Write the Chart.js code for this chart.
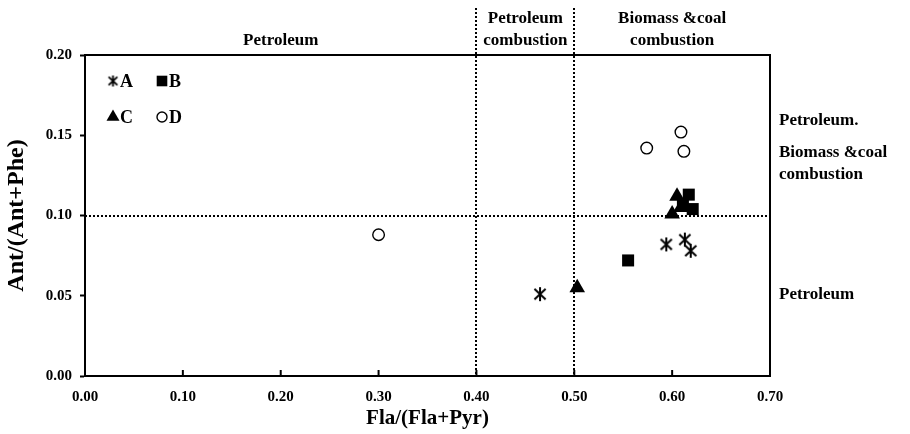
<!DOCTYPE html>
<html>
<head>
<meta charset="utf-8">
<script src="https://cdn.jsdelivr.net/npm/chart.js@4.4.0/dist/chart.umd.min.js"></script>
<style>
    html, body { margin: 0; padding: 0; background: #fff; }
    #wrap { width: 910px; height: 434px; }
</style>
</head>
<body>
<div id="wrap"><canvas id="diag"></canvas></div>
<script>
    "use strict";

    // Data
    var seriesNames = ["A", "B", "C", "D"];
    var aX = [0.465, 0.594, 0.613, 0.619];
    var aY = [0.051, 0.082, 0.085, 0.078];
    var bX = [0.555, 0.617, 0.621, 0.611];
    var bY = [0.072, 0.113, 0.104, 0.106];
    var cX = [0.503, 0.600, 0.605, 0.609];
    var cY = [0.055, 0.101, 0.112, 0.105];
    var dX = [0.300, 0.574, 0.609, 0.612];
    var dY = [0.088, 0.142, 0.152, 0.140];

    var xTicks = [0, 0.1, 0.2, 0.3, 0.4, 0.5, 0.6, 0.7];
    var yTicks = [0, 0.05, 0.1, 0.15, 0.2];
    var xSplits = [0.4, 0.5];
    var ySplit = 0.1;

    var serif = "'Liberation Serif', 'Times New Roman', serif";

    function pairs(xs, ys) {
        return xs.map(function (x, i) { return {x: x, y: ys[i]}; });
    }

    // asterisk marker: vertical bar plus two diagonals
    function asterisk(size, lw) {
        var c = document.createElement("canvas");
        c.width = size; c.height = size;
        var g = c.getContext("2d");
        var m = size / 2, r = size / 2 - 1;
        g.strokeStyle = "#000";
        g.lineWidth = lw;
        g.beginPath();
        g.moveTo(m, m - r); g.lineTo(m, m + r);
        g.moveTo(m - r * 0.8, m - r * 0.75); g.lineTo(m + r * 0.8, m + r * 0.75);
        g.moveTo(m + r * 0.8, m - r * 0.75); g.lineTo(m - r * 0.8, m + r * 0.75);
        g.stroke();
        return c;
    }
    var star = asterisk(16, 2);
    var starSmall = asterisk(13, 1.8);

    var datasets = [
        {label: seriesNames[0], data: pairs(aX, aY), pointStyle: star, pointRadius: 8,
            backgroundColor: "#000", borderColor: "#000"},
        {label: seriesNames[1], data: pairs(bX, bY), pointStyle: "rect", pointRadius: 8.5,
            backgroundColor: "#000", borderColor: "#000", borderWidth: 0},
        {label: seriesNames[2], data: pairs(cX, cY), pointStyle: "triangle", pointRadius: 9,
            backgroundColor: "#000", borderColor: "#000", borderWidth: 0},
        {label: seriesNames[3], data: pairs(dX, dY), pointStyle: "circle", pointRadius: 5.8,
            backgroundColor: "#fff", borderColor: "#000", borderWidth: 1.4}
    ];

    // Frame, inside ticks, dotted split lines, region labels and the legend
    var decorations = {
        id: "decorations",
        beforeDatasetsDraw: function (chart) {
            var ctx = chart.ctx, a = chart.chartArea;
            var xs = chart.scales.x, ys = chart.scales.y;
            ctx.save();
            ctx.strokeStyle = "#000";
            ctx.lineWidth = 2;
            ctx.setLineDash([2, 2]);
            xSplits.forEach(function (v) {
                var px = Math.round(xs.getPixelForValue(v));
                ctx.beginPath();
                ctx.moveTo(px, 8);
                ctx.lineTo(px, a.bottom);
                ctx.stroke();
            });
            var py = Math.round(ys.getPixelForValue(ySplit));
            ctx.beginPath();
            ctx.moveTo(a.left, py);
            ctx.lineTo(a.right, py);
            ctx.stroke();
            ctx.setLineDash([]);

            // x ticks point inward
            xTicks.forEach(function (v) {
                var px = xs.getPixelForValue(v);
                ctx.beginPath();
                ctx.moveTo(px, a.bottom);
                ctx.lineTo(px, a.bottom - 6);
                ctx.stroke();
            });
            ctx.strokeRect(a.left, a.top, a.right - a.left, a.bottom - a.top);

            // region labels
            ctx.fillStyle = "#000";
            ctx.font = "bold 17px " + serif;
            ctx.textAlign = "center";
            ctx.textBaseline = "middle";
            var mid1 = (a.left + xs.getPixelForValue(0.4)) / 2;
            var mid2 = (xs.getPixelForValue(0.4) + xs.getPixelForValue(0.5)) / 2;
            var mid3 = (xs.getPixelForValue(0.5) + a.right) / 2;
            ctx.fillText("Petroleum", mid1, 41);
            ctx.fillText("Petroleum", mid2, 19);
            ctx.fillText("combustion", mid2, 41);
            ctx.fillText("Biomass &coal", mid3, 19);
            ctx.fillText("combustion", mid3, 41);

            ctx.textAlign = "left";
            var rx = a.right + 9;
            ctx.fillText("Petroleum.", rx, 121);
            ctx.fillText("Biomass &coal", rx, 153);
            ctx.fillText("combustion", rx, 175);
            ctx.fillText("Petroleum", rx, 295);

            // legend, 2 x 2 grid
            var spots = [[113, 81], [162, 81], [113, 117], [162, 117]];
            ctx.font = "bold 18px " + serif;
            chart.data.datasets.forEach(function (ds, i) {
                var s = spots[i];
                ctx.fillStyle = ds.backgroundColor;
                ctx.strokeStyle = ds.borderColor;
                ctx.lineWidth = ds.borderWidth || 1.4;
                if (i === 0) {
                    ctx.drawImage(starSmall, s[0] - 6.5, s[1] - 6.5);
                } else {
                    var r = ds.pointStyle === "rect" ? 7.5 : ds.pointStyle === "triangle" ? 7.5 : 5;
                    Chart.helpers.drawPoint(ctx, {
                        pointStyle: ds.pointStyle, radius: r, rotation: 0,
                        borderWidth: ds.borderWidth
                    }, s[0], s[1]);
                }
                ctx.fillStyle = "#000";
                ctx.fillText(ds.label, s[0] + 7, s[1] + 1);
            });
            ctx.restore();
        }
    };

    var ctx1 = document.getElementById("diag").getContext("2d");
    var diag = new Chart(ctx1, {
        type: "scatter",
        data: {datasets: datasets},
        plugins: [decorations],
        options: {
            responsive: true,
            maintainAspectRatio: false,
            animation: false,
            layout: {padding: {left: 0, right: 140, top: 55, bottom: 0}},
            plugins: {legend: {display: false}, tooltip: {enabled: false}},
            scales: {
                x: {
                    type: "linear", min: 0, max: 0.7,
                    afterBuildTicks: function (s) { s.ticks = xTicks.map(function (v) { return {value: v}; }); },
                    afterFit: function (s) { s.height = 58; },
                    grid: {display: false, drawTicks: false},
                    border: {display: true, color: "#000", width: 2},
                    ticks: {color: "#000", padding: 12, maxRotation: 0,
                        font: {family: serif, weight: "bold", size: 15},
                        callback: function (v) { return v.toFixed(2); }},
                    title: {display: true, text: "Fla/(Fla+Pyr)", color: "#000",
                        font: {family: serif, weight: "bold", size: 21},
                        padding: {top: 0, bottom: 3}}
                },
                y: {
                    type: "linear", min: 0, max: 0.2,
                    afterBuildTicks: function (s) { s.ticks = yTicks.map(function (v) { return {value: v}; }); },
                    afterFit: function (s) { s.width = 85; },
                    grid: {display: true, drawOnChartArea: false, drawTicks: true, tickLength: 5,
                        color: "#000", tickWidth: 2},
                    border: {display: true, color: "#000", width: 2},
                    ticks: {color: "#000", padding: 8,
                        font: {family: serif, weight: "bold", size: 15},
                        callback: function (v) { return v.toFixed(2); }},
                    title: {display: true, text: "Ant/(Ant+Phe)", color: "#000",
                        font: {family: serif, weight: "bold", size: 24},
                        padding: {top: 2, bottom: 0}}
                }
            }
        }
    });
</script>
</body>
</html>
